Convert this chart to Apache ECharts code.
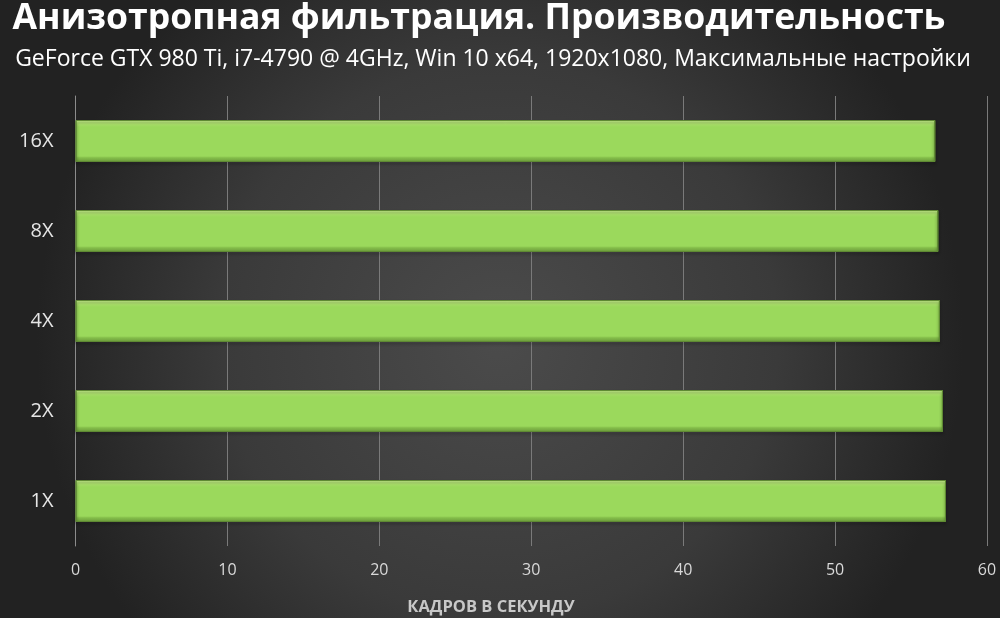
<!DOCTYPE html>
<html>
<head>
<meta charset="utf-8">
<script src="https://cdn.jsdelivr.net/npm/echarts@6/dist/echarts.min.js"></script>
<style>
  html, body { margin: 0; padding: 0; background: #333; }
  #chart { width: 1000px; height: 618px; }
</style>
</head>
<body>
<div id="chart"></div>
<script>
// данные графика (снизу вверх)
const categories = ["1X", "2X", "4X", "8X", "16X"];
const fps = [57.3, 57.1, 56.9, 56.8, 56.6];
const xTicks = [0, 10, 20, 30, 40, 50, 60];

const titleText = "Анизотропная фильтрация. Производительность";
const subText = "GeForce GTX 980 Ti, i7-4790 @ 4GHz, Win 10 x64, 1920x1080, Максимальные настройки";
const axisTitle = "КАДРОВ В СЕКУНДУ";

let myChart = echarts.init(document.getElementById("chart"));

// зелёный брусок с фаской
const barFill = new echarts.graphic.LinearGradient(0, 0, 0, 1, [
  { offset: 0, color: "#c9f28f" },
  { offset: 0.1, color: "#aee46c" },
  { offset: 0.16, color: "#9bd95c" },
  { offset: 0.86, color: "#9bd95c" },
  { offset: 0.9, color: "#84bd4a" },
  { offset: 1, color: "#6b9a3b" },
]);

let option = {
  backgroundColor: new echarts.graphic.RadialGradient(0.5, 0.55, 0.75, [
    { offset: 0, color: "#4b4b4b" },
    { offset: 0.6, color: "#3a3a3a" },
    { offset: 1, color: "#222222" },
  ]),
  textStyle: { fontFamily: "Open Sans" },
  title: [
    {
      text: titleText,
      left: 474,
      top: -4,
      textAlign: "center",
      textStyle: { color: "#ffffff", fontSize: 35.6, fontWeight: "bold", fontFamily: "Open Sans" },
    },
    {
      text: subText,
      left: 488,
      top: 43,
      textAlign: "center",
      textStyle: { color: "#ffffff", fontSize: 23, fontWeight: "normal", fontFamily: "Open Sans" },
    },
    {
      text: axisTitle,
      left: 486,
      top: 594,
      textAlign: "center",
      textStyle: { color: "#c8c8c8", fontSize: 16.5, fontWeight: "bold", fontFamily: "Open Sans" },
    },
  ],
  grid: { left: 75.5, right: 13, top: 96, bottom: 72 },
  xAxis: {
    type: "value",
    min: xTicks[0],
    max: xTicks[xTicks.length - 1],
    interval: 10,
    axisLine: { show: false },
    axisTick: { show: false },
    splitLine: { show: true, lineStyle: { color: "#7a7a7a", width: 1 } },
    axisLabel: { color: "#d9d9d9", fontSize: 16, margin: 16 },
  },
  yAxis: {
    type: "category",
    data: categories,
    axisLine: { show: true, lineStyle: { color: "#8c8c8c" } },
    axisTick: { show: false },
    axisLabel: { color: "#e6e6e6", fontSize: 20, margin: 22 },
  },
  series: [
    {
      type: "bar",
      data: fps,
      barWidth: 42,
      itemStyle: {
        color: barFill,
        borderColor: "#5f8a33",
        borderWidth: 1,
        shadowColor: "rgba(0,0,0,0.45)",
        shadowBlur: 3,
        shadowOffsetY: 2,
      },
      silent: true,
    },
  ],
};

myChart.setOption(option);
</script>
</body>
</html>
